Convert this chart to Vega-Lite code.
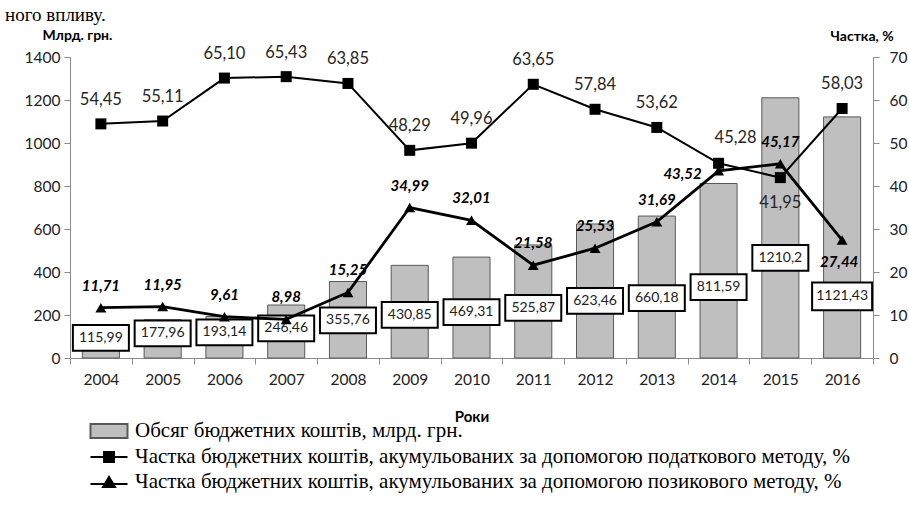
{
  "$schema": "https://vega.github.io/schema/vega-lite/v6.json",
  "width": 803,
  "height": 301,
  "autosize": {"type": "none"},
  "padding": {"left": 70, "top": 57, "right": 36, "bottom": 149},
  "background": "white",
  "title": {
    "text": "ного впливу.",
    "anchor": "start",
    "frame": "group",
    "font": "Liberation Serif",
    "fontSize": 19,
    "fontWeight": "normal",
    "color": "black",
    "baseline": "alphabetic",
    "dx": -65,
    "offset": -12
  },
  "config": {
    "locale": {"number": {"decimal": ",", "thousands": "", "grouping": [3], "currency": ["", ""]}},
    "view": {"stroke": null},
    "axis": {
      "labelFont": "Lato",
      "labelFontSize": 15.5,
      "labelColor": "#222222",
      "domainColor": "#8c8c8c",
      "tickColor": "#8c8c8c",
      "tickSize": 6,
      "grid": false,
      "titleFont": "Lato",
      "titleFontWeight": "bold",
      "titleFontSize": 14,
      "titleColor": "#000000"
    }
  },
  "data": {
    "values": [
      {"year": 2004, "vol": 115.99, "tax": 54.45, "loan": 11.71},
      {"year": 2005, "vol": 177.96, "tax": 55.11, "loan": 11.95},
      {"year": 2006, "vol": 193.14, "tax": 65.10, "loan": 9.61},
      {"year": 2007, "vol": 246.46, "tax": 65.43, "loan": 8.98},
      {"year": 2008, "vol": 355.76, "tax": 63.85, "loan": 15.25},
      {"year": 2009, "vol": 430.85, "tax": 48.29, "loan": 34.99},
      {"year": 2010, "vol": 469.31, "tax": 49.96, "loan": 32.01},
      {"year": 2011, "vol": 525.87, "tax": 63.65, "loan": 21.58},
      {"year": 2012, "vol": 623.46, "tax": 57.84, "loan": 25.53},
      {"year": 2013, "vol": 660.18, "tax": 53.62, "loan": 31.69},
      {"year": 2014, "vol": 811.59, "tax": 45.28, "loan": 43.52},
      {"year": 2015, "vol": 1210.2, "tax": 41.95, "loan": 45.17},
      {"year": 2016, "vol": 1121.43, "tax": 58.03, "loan": 27.44}
    ]
  },
  "encoding": {
    "x": {
      "field": "year",
      "type": "ordinal",
      "scale": {"paddingInner": 0, "paddingOuter": 0},
      "axis": {
        "title": "Роки",
        "labelAngle": 0,
        "tickBand": "extent",
        "labelPadding": 8,
        "titlePadding": 22,
        "titleFontSize": 15
      }
    }
  },
  "layer": [
    {
      "layer": [
        {
          "mark": {"type": "bar", "width": {"band": 0.6}, "fill": "#bfbfbf", "stroke": "#595959", "strokeWidth": 1},
          "encoding": {
            "y": {
              "field": "vol",
              "type": "quantitative",
              "scale": {"domain": [0, 1400]},
              "axis": {
                "orient": "left",
                "title": "Млрд. грн.",
                "values": [0, 200, 400, 600, 800, 1000, 1200, 1400],
                "format": "d",
                "labelPadding": 4,
                "titleAngle": 0,
                "titleAlign": "left",
                "titleBaseline": "middle",
                "titleX": -28,
                "titleY": -22
              }
            }
          }
        },
        {
          "transform": [{"filter": "datum.year != 2016"}, {"calculate": "datum.vol * 0.34 + 54", "as": "labelY"}],
          "layer": [
            {
              "mark": {"type": "point", "shape": "M-1,-0.46H1V0.46H-1Z", "size": 3136, "filled": true, "fill": "white", "stroke": "black", "strokeWidth": 2, "opacity": 1},
              "encoding": {"y": {"field": "labelY", "type": "quantitative", "title": "Млрд. грн."}}
            },
            {
              "mark": {"type": "text", "font": "Lato", "fontSize": 14, "color": "#222222", "baseline": "middle"},
              "encoding": {
                "y": {"field": "labelY", "type": "quantitative", "title": "Млрд. грн."},
                "text": {"field": "vol", "type": "quantitative", "format": ".2~f"}
              }
            }
          ]
        },
        {
          "transform": [{"filter": "datum.year == 2016"}, {"calculate": "datum.vol * 0.34 + 54", "as": "labelY"}],
          "layer": [
            {
              "mark": {"type": "point", "shape": "M-1,-0.46H1V0.46H-1Z", "size": 3600, "filled": true, "fill": "white", "stroke": "black", "strokeWidth": 2, "opacity": 1, "yOffset": 32},
              "encoding": {"y": {"field": "labelY", "type": "quantitative", "title": "Млрд. грн."}}
            },
            {
              "mark": {"type": "text", "font": "Lato", "fontSize": 14, "color": "#222222", "baseline": "middle", "yOffset": 32},
              "encoding": {
                "y": {"field": "labelY", "type": "quantitative", "title": "Млрд. грн."},
                "text": {"field": "vol", "type": "quantitative", "format": ".2~f"}
              }
            }
          ]
        }
      ]
    },
    {
      "layer": [
        {
          "mark": {"type": "line", "color": "black", "strokeWidth": 2},
          "encoding": {
            "y": {
              "field": "tax",
              "type": "quantitative",
              "scale": {"domain": [0, 70]},
              "axis": {
                "orient": "right",
                "title": "Частка, %",
                "values": [0, 10, 20, 30, 40, 50, 60, 70],
                "format": "d",
                "labelPadding": 10,
                "titleAngle": 0,
                "titleAlign": "left",
                "titleBaseline": "middle",
                "titleX": -43,
                "titleY": -21
              }
            }
          }
        },
        {
          "mark": {"type": "point", "shape": "square", "size": 121, "filled": true, "color": "black", "opacity": 1},
          "encoding": {"y": {"field": "tax", "type": "quantitative", "title": "Частка, %"}}
        },
        {
          "mark": {"type": "line", "color": "black", "strokeWidth": 2.8},
          "encoding": {"y": {"field": "loan", "type": "quantitative", "title": "Частка, %"}}
        },
        {
          "mark": {"type": "point", "shape": "triangle-up", "size": 120, "filled": true, "color": "black", "opacity": 1},
          "encoding": {"y": {"field": "loan", "type": "quantitative", "title": "Частка, %"}}
        },
        {
          "transform": [{"filter": "datum.year != 2014 && datum.year != 2015"}],
          "mark": {"type": "text", "font": "Lato", "fontSize": 16.5, "color": "#262626", "dy": -24},
          "encoding": {
            "y": {"field": "tax", "type": "quantitative", "title": "Частка, %"},
            "text": {"field": "tax", "type": "quantitative", "format": ".2f"}
          }
        },
        {
          "transform": [{"filter": "datum.year == 2014"}],
          "mark": {"type": "text", "font": "Lato", "fontSize": 16.5, "color": "#262626", "dy": -25, "dx": 17},
          "encoding": {
            "y": {"field": "tax", "type": "quantitative", "title": "Частка, %"},
            "text": {"field": "tax", "type": "quantitative", "format": ".2f"}
          }
        },
        {
          "transform": [{"filter": "datum.year == 2015"}],
          "mark": {"type": "text", "font": "Lato", "fontSize": 16.5, "color": "#262626", "dy": 25},
          "encoding": {
            "y": {"field": "tax", "type": "quantitative", "title": "Частка, %"},
            "text": {"field": "tax", "type": "quantitative", "format": ".2f"}
          }
        },
        {
          "transform": [{"filter": "datum.year != 2014 && datum.year != 2016"}],
          "mark": {"type": "text", "font": "Lato", "fontSize": 15, "fontWeight": "bold", "fontStyle": "italic", "color": "black", "dy": -22},
          "encoding": {
            "y": {"field": "loan", "type": "quantitative", "title": "Частка, %"},
            "text": {"field": "loan", "type": "quantitative", "format": ".2f"}
          }
        },
        {
          "transform": [{"filter": "datum.year == 2014"}],
          "mark": {"type": "text", "font": "Lato", "fontSize": 15, "fontWeight": "bold", "fontStyle": "italic", "color": "black", "dy": 3, "dx": -36},
          "encoding": {
            "y": {"field": "loan", "type": "quantitative", "title": "Частка, %"},
            "text": {"field": "loan", "type": "quantitative", "format": ".2f"}
          }
        },
        {
          "transform": [{"filter": "datum.year == 2016"}],
          "mark": {"type": "text", "font": "Lato", "fontSize": 15, "fontWeight": "bold", "fontStyle": "italic", "color": "black", "dy": 22, "dx": -3},
          "encoding": {
            "y": {"field": "loan", "type": "quantitative", "title": "Частка, %"},
            "text": {"field": "loan", "type": "quantitative", "format": ".2f"}
          }
        }
      ]
    },
    {
      "data": {
        "values": [
          {"series": "Обсяг бюджетних коштів, млрд. грн."},
          {"series": "Частка бюджетних коштів, акумульованих за допомогою податкового методу, %"},
          {"series": "Частка бюджетних коштів, акумульованих за допомогою позикового методу, %"}
        ]
      },
      "transform": [{"filter": "false"}],
      "mark": {"type": "point", "filled": true, "opacity": 1},
      "encoding": {
        "x": {"value": 0},
        "y": {"value": 0},
        "shape": {
          "field": "series",
          "type": "nominal",
          "scale": {
            "domain": [
              "Обсяг бюджетних коштів, млрд. грн.",
              "Частка бюджетних коштів, акумульованих за допомогою податкового методу, %",
              "Частка бюджетних коштів, акумульованих за допомогою позикового методу, %"
            ],
            "range": [
              "M-1.85,-0.7H1.85V0.7H-1.85Z",
              "M-1.85,0H1.85M-0.5,-0.5H0.5V0.5H-0.5Z",
              "M-1.85,0.2H1.85M-0.6,0.5L0,-0.5L0.6,0.5Z"
            ]
          },
          "legend": {
            "title": null,
            "orient": "none",
            "legendX": 28,
            "legendY": 363,
            "padding": 0,
            "symbolSize": 400,
            "symbolStrokeWidth": 2,
            "labelOffset": 15,
            "labelFont": "Liberation Serif",
            "labelFontSize": 21,
            "labelColor": "black",
            "labelLimit": 900,
            "rowPadding": 4
          }
        },
        "color": {
          "field": "series",
          "type": "nominal",
          "scale": {
            "domain": [
              "Обсяг бюджетних коштів, млрд. грн.",
              "Частка бюджетних коштів, акумульованих за допомогою податкового методу, %",
              "Частка бюджетних коштів, акумульованих за допомогою позикового методу, %"
            ],
            "range": ["#bfbfbf", "#000000", "#000000"]
          }
        },
        "stroke": {
          "field": "series",
          "type": "nominal",
          "scale": {
            "domain": [
              "Обсяг бюджетних коштів, млрд. грн.",
              "Частка бюджетних коштів, акумульованих за допомогою податкового методу, %",
              "Частка бюджетних коштів, акумульованих за допомогою позикового методу, %"
            ],
            "range": ["#595959", "#000000", "#000000"]
          }
        }
      }
    }
  ],
  "resolve": {"scale": {"y": "independent"}}
}
